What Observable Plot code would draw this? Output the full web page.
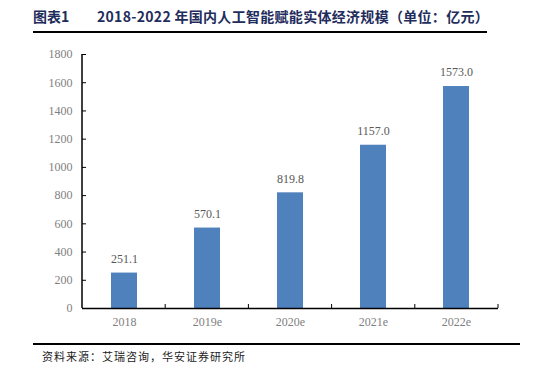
<!DOCTYPE html>
<html>
<head>
<meta charset="utf-8">
<script src="https://cdn.jsdelivr.net/npm/d3@7"></script>
<script src="https://cdn.jsdelivr.net/npm/@observablehq/plot@0.6"></script>
<style>
  html, body { margin: 0; padding: 0; background: #fff; }
  #wrap { position: relative; width: 558px; height: 371px; overflow: hidden; }
  #title { position: absolute; left: 33px; top: 6px; width: 454px; height: 25px; border-bottom: 2px solid #000;
    font-family: "Noto Sans CJK SC", sans-serif; font-weight: bold; font-size: 14px; color: #1f2d5c; line-height: 20px; white-space: nowrap; letter-spacing: 0.3px; }
  #title .num { display: inline-block; width: 64px; letter-spacing: 0; }
  #chart { position: absolute; left: 0; top: 40px; }
  #footer { position: absolute; left: 33px; top: 343px; width: 487px; border-top: 2px solid #000;
    font-family: "Noto Sans CJK SC", serif; font-size: 11px; color: #222; padding-top: 3px; padding-left: 9px; box-sizing: border-box; letter-spacing: 1px; }
</style>
</head>
<body>
<div id="wrap">
  <div id="title"><span class="num">图表1</span>2018-2022 年国内人工智能赋能实体经济规模（单位：亿元）</div>
  <div id="chart"></div>
  <div id="footer">资料来源：艾瑞咨询，华安证券研究所</div>
</div>
<script>
const categories = ["2018", "2019e", "2020e", "2021e", "2022e"];
const values = [251.1, 570.1, 819.8, 1157.0, 1573.0];
const yTicks = [0, 200, 400, 600, 800, 1000, 1200, 1400, 1600, 1800];

const data = categories.map((c, i) => ({category: c, value: values[i]}));

// custom mark: y-axis line and category boundary ticks on the x axis
function axisLines(index, scales, values, dims) {
  const g = d3.create("svg:g").attr("stroke", "#000").attr("stroke-width", 1.5).attr("fill", "none");
  const x0 = dims.marginLeft;
  const x1 = dims.width - dims.marginRight;
  const y0 = scales.y(0);
  const yTop = scales.y(d3.max(yTicks));
  g.append("line").attr("x1", x0).attr("x2", x0).attr("y1", y0).attr("y2", yTop);
  const step = (x1 - x0) / categories.length;
  for (let k = 1; k <= categories.length; k++) {
    const xx = x0 + k * step;
    g.append("line").attr("x1", xx).attr("x2", xx).attr("y1", y0).attr("y2", y0 - 4).attr("stroke-width", 1);
  }
  return g.node();
}

const chart = Plot.plot({
  width: 558,
  height: 295,
  marginLeft: 82,
  marginRight: 60,
  marginTop: 14,
  marginBottom: 27,
  style: {fontFamily: "Liberation Serif, serif", fontSize: "12px", color: "#7f7f7f", background: "#fff"},
  x: {domain: categories, paddingInner: 0.69, paddingOuter: 0.345, label: null},
  y: {domain: [0, 1800], label: null},
  marks: [
    Plot.barY(data, {x: "category", y: "value", fill: "#4f81bd"}),
    Plot.text(data, {x: "category", y: "value", text: d => d.value.toFixed(1), dy: -14, fill: "#595959", fontSize: 12}),
    Plot.axisY({ticks: yTicks, tickFormat: "d", tickSize: -4, tickPadding: 14, stroke: "#000", fill: "#7f7f7f", fontSize: 12}),
    Plot.axisX({tickSize: 0, tickPadding: 9, fill: "#7f7f7f", fontSize: 12}),
    Plot.ruleY([0], {stroke: "#000", strokeWidth: 1.5}),
    axisLines
  ]
});
document.getElementById("chart").appendChild(chart);
</script>
</body>
</html>
